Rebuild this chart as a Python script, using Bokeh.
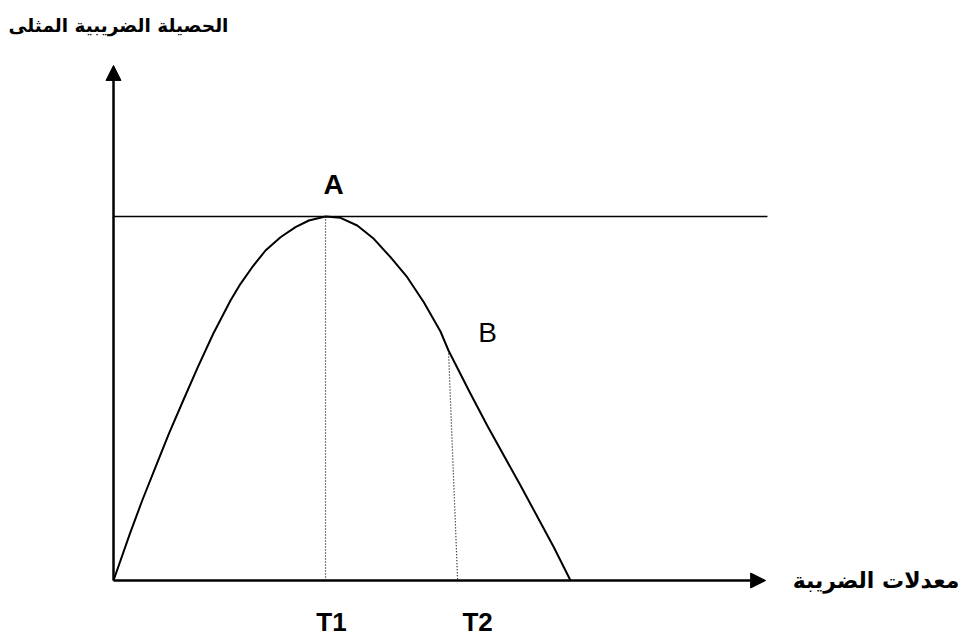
from bokeh.plotting import figure
from bokeh.models import Arrow, NormalHead, Range1d
from bokeh.embed import file_html
from bokeh.resources import INLINE
from bokeh.core.properties import value

# ---- data (tax rate %, tax revenue index) ----
tax_rate = [0, 3.57, 6.28, 9.19, 12.10, 15.25, 18.45, 21.82, 25.60, 27.79,
            30.35, 33.26, 36.54, 39.82, 42.74, 46.39, 49.67, 53.33, 56.96,
            60.61, 64.27, 67.90, 71.55, 73.30, 78.12, 81.77, 89.06, 96.35, 100]
revenue = [0, 12.83, 21.98, 31.13, 40.30, 49.45, 58.60, 67.78, 76.92, 81.51,
           86.07, 90.66, 94.31, 97.06, 98.90, 100, 99.64, 97.53, 93.87,
           88.82, 83.32, 76.46, 68.41, 63.19, 51.29, 42.58, 26.10, 9.15, 0]
t1_rate = 46.39
t2_rate = 75.3
max_revenue = 100
b_point = (73.30, 63.19)
x_axis_end = 142.7
y_axis_end = 141.5
optimum_line_end = 143.1
y_title = "الحصيلة الضريبية المثلى"
x_title = "معدلات الضريبة"
tick_labels = ["T1", "T2"]
point_labels = ["A", "B"]

W, H = 958, 638
p = figure(width=W, height=H, output_backend="svg", toolbar_location=None,
           x_range=Range1d(-24.73, 184.9), y_range=Range1d(-15.93, 159.34),
           min_border=0)
p.axis.visible = False
p.grid.visible = False
p.outline_line_color = None
p.background_fill_color = "white"
p.border_fill_color = "white"

# axes with arrows
p.add_layout(Arrow(end=NormalHead(size=15, fill_color="black", line_color="black", line_width=1),
                   x_start=0, y_start=0, x_end=0, y_end=y_axis_end,
                   line_width=2.5, line_color="black"))
p.add_layout(Arrow(end=NormalHead(size=15, fill_color="black", line_color="black", line_width=1),
                   x_start=0, y_start=0, x_end=x_axis_end, y_end=0,
                   line_width=2.5, line_color="black"))

# optimum horizontal line
p.line([0, optimum_line_end], [max_revenue, max_revenue], line_color="black", line_width=1.6)

# Laffer curve
p.line(tax_rate, revenue, line_color="black", line_width=2, line_join="round")

# dotted drop lines
p.line([t1_rate, t1_rate], [0, max_revenue], line_color="black", line_width=1.2, line_dash="1 2")
p.line([b_point[0], t2_rate], [b_point[1], 0], line_color="black", line_width=1.2, line_dash="1 2")

# point labels
p.text(x=[t1_rate], y=[max_revenue], text=[point_labels[0]], x_offset=8, y_offset=-17,
       text_align="center", text_baseline="bottom", text_font=value("Liberation Sans"),
       text_font_style="bold", text_font_size="28px", text_color="black")
p.text(x=[b_point[0]], y=[b_point[1]], text=[point_labels[1]], x_offset=39, y_offset=-2,
       text_align="center", text_baseline="bottom", text_font=value("Liberation Sans"),
       text_font_size="28px", text_color="black")

# tick labels
p.text(x=[t1_rate, t2_rate], y=[0, 0], text=tick_labels, x_offset=[6, 20], y_offset=41,
       text_align="center", text_baseline="middle", text_font=value("Liberation Sans"),
       text_font_style="bold", text_font_size="26px", text_color="black")

# axis titles
p.text(x=[0], y=[y_axis_end], text=[y_title], x_offset=5, y_offset=-40,
       text_align="center", text_baseline="middle", text_font=value("DejaVu Sans"),
       text_font_style="bold", text_font_size="18.5px", text_color="black")
p.text(x=[x_axis_end], y=[0], text=[x_title], x_offset=27, y_offset=0,
       text_align="left", text_baseline="middle", text_font=value("DejaVu Sans"),
       text_font_style="bold", text_font_size="22px", text_color="black")

open("out.html", "w").write(file_html(p, INLINE))
